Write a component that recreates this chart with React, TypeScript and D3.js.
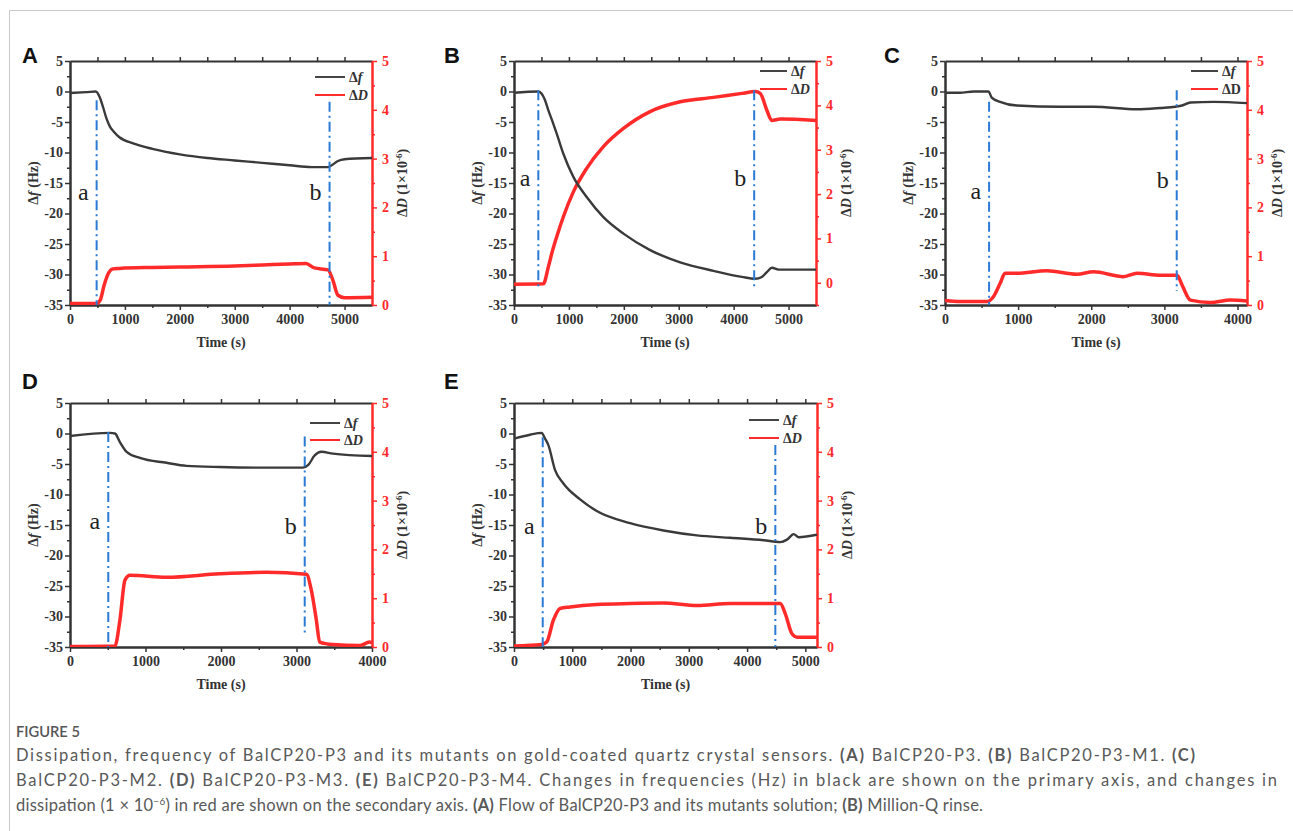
import React, { useRef, useEffect } from 'react';
import * as d3 from 'd3';

// ---- data (time in s, frequency in Hz, dissipation in 1e-6) ----

// A: BalCP20-P3
const aFreqT = [0, 300, 470, 540, 600, 667, 730, 790, 900, 1150, 1500, 2000, 2500, 3000, 3500, 4000, 4400, 4700, 4780, 4880, 5000, 5500];
const aFreqHz = [-0.25, -0.1, 0, -0.9, -2.5, -4.5, -5.8, -6.5, -7.5, -8.5, -9.4, -10.3, -10.9, -11.3, -11.7, -12.1, -12.4, -12.4, -12.0, -11.4, -11.1, -10.9];
const aDissT = [0, 480, 550, 620, 700, 780, 900, 1500, 2000, 3000, 3500, 4000, 4300, 4450, 4700, 4790, 4880, 5000, 5500];
const aDiss = [0.03, 0.03, 0.1, 0.4, 0.65, 0.74, 0.75, 0.77, 0.78, 0.8, 0.82, 0.84, 0.85, 0.76, 0.72, 0.5, 0.2, 0.15, 0.16];
const aMarkT = [485, 4727];
const aMarkTop = [-1.45, -1.7];
const aMarkBottom = [-35, -35];
const aLabelHz = [-17.8, -17.8];

// B: BalCP20-P3-M1
const bFreqT = [0, 443, 504, 560, 626, 700, 778, 899, 1081, 1324, 1628, 1993, 2479, 3026, 3634, 4150, 4393, 4514, 4605, 4696, 4818, 5500];
const bFreqHz = [-0.2, 0, -0.35, -1.3, -3.1, -4.9, -6.9, -10.2, -14.0, -17.3, -20.6, -23.3, -26.0, -28.0, -29.4, -30.4, -30.7, -30.4, -29.6, -28.9, -29.2, -29.2];
const bDissT = [0, 535, 626, 700, 778, 899, 1081, 1324, 1628, 1993, 2479, 3026, 3634, 4150, 4393, 4484, 4605, 4696, 4848, 5500];
const bDiss = [-0.03, -0.02, 0.36, 0.72, 1.04, 1.49, 2.05, 2.58, 3.07, 3.48, 3.86, 4.08, 4.18, 4.27, 4.31, 4.27, 3.89, 3.66, 3.69, 3.66];
const bMarkT = [443, 4374];
const bMarkTop = [0.2, 0.2];
const bMarkBottom = [-32.0, -32.0];
const bLabelHz = [-15.5, -15.5];

// C: BalCP20-P3-M2
const cFreqT = [0, 205, 388, 594, 639, 753, 982, 1575, 2032, 2626, 2945, 3151, 3242, 3356, 3676, 4130];
const cFreqHz = [-0.2, -0.2, 0, 0, -1.0, -1.7, -2.3, -2.5, -2.5, -2.9, -2.7, -2.5, -2.3, -1.8, -1.7, -1.9];
const cDissT = [0, 205, 571, 662, 753, 822, 982, 1393, 1804, 2032, 2443, 2626, 2945, 3174, 3242, 3356, 3630, 3904, 4130];
const cDiss = [0.09, 0.07, 0.07, 0.17, 0.44, 0.65, 0.65, 0.7, 0.63, 0.68, 0.58, 0.65, 0.61, 0.61, 0.41, 0.1, 0.05, 0.1, 0.08];
const cMarkT = [603, 3169];
const cMarkTop = [-1.7, 0.2];
const cMarkBottom = [-35, -32.7];
const cLabelHz = [-17.7, -15.9];

// D: BalCP20-P3-M3
const dFreqT = [0, 529, 595, 661, 750, 926, 1279, 1543, 1984, 2601, 3086, 3153, 3241, 3329, 3483, 4000];
const dFreqHz = [-0.4, 0.1, 0, -1.4, -3.0, -4.0, -4.8, -5.3, -5.5, -5.6, -5.6, -5.2, -3.6, -3.0, -3.3, -3.7];
const dDissT = [0, 595, 661, 728, 794, 1279, 1984, 2601, 3131, 3197, 3263, 3307, 3483, 3836, 3968, 4000];
const dDiss = [0.01, 0.02, 0.55, 1.37, 1.47, 1.43, 1.5, 1.53, 1.49, 1.16, 0.55, 0.1, 0.05, 0.03, 0.1, 0.08];
const dMarkT = [507, 3109];
const dMarkTop = [0.25, -0.5];
const dMarkBottom = [-35, -33.1];
const dLabelHz = [-15.6, -16.5];

// E: BalCP20-P3-M4
const eFreqT = [0, 275, 475, 533, 590, 705, 848, 1134, 1420, 1993, 2566, 3139, 3711, 4284, 4570, 4685, 4800, 4886, 5200];
const eFreqHz = [-0.85, -0.2, 0.1, -0.85, -1.9, -6.0, -8.2, -10.8, -12.7, -14.7, -15.9, -16.7, -17.1, -17.5, -17.8, -17.4, -16.5, -17.0, -16.6];
const eDissT = [0, 475, 561, 676, 790, 962, 1420, 1993, 2566, 3139, 3711, 4570, 4656, 4771, 4857, 5200];
const eDiss = [0.02, 0.05, 0.1, 0.55, 0.79, 0.82, 0.87, 0.89, 0.9, 0.85, 0.89, 0.89, 0.68, 0.27, 0.2, 0.2];
const eMarkT = [493, 4485];
const eMarkTop = [-0.6, -1.9];
const eMarkBottom = [-35, -35];
const eLabelHz = [-16.5, -16.5];

const markNames = ['a', 'b'];
const freqTicks = [5, 0, -5, -10, -15, -20, -25, -30, -35];
const dissTicks = [0, 1, 2, 3, 4, 5];

// ---- layout ----
const panels = [
  { id: 'A', x: 70, y: 61, w: 302, h: 244, xMax: 5500, dMin: 0, letterX: 22, letterY: 63, leg: [57, 27, 16, 34], italicD: true,
    freq: [aFreqT, aFreqHz], diss: [aDissT, aDiss], marks: [aMarkT, aMarkTop, aMarkBottom, aLabelHz] },
  { id: 'B', x: 514, y: 61, w: 302, h: 244, xMax: 5500, dMin: -0.5, letterX: 444, letterY: 63, leg: [56, 29, 10, 28], italicD: true,
    freq: [bFreqT, bFreqHz], diss: [bDissT, bDiss], marks: [bMarkT, bMarkTop, bMarkBottom, bLabelHz] },
  { id: 'C', x: 945, y: 61, w: 302, h: 244, xMax: 4130, dMin: 0, letterX: 884, letterY: 63, leg: [56, 29, 10, 28], italicD: false,
    freq: [cFreqT, cFreqHz], diss: [cDissT, cDiss], marks: [cMarkT, cMarkTop, cMarkBottom, cLabelHz] },
  { id: 'D', x: 70, y: 403, w: 302, h: 244, xMax: 4000, dMin: 0, letterX: 22, letterY: 389, leg: [62, 32, 20, 37], italicD: true,
    freq: [dFreqT, dFreqHz], diss: [dDissT, dDiss], marks: [dMarkT, dMarkTop, dMarkBottom, dLabelHz] },
  { id: 'E', x: 514, y: 403, w: 303, h: 244, xMax: 5200, dMin: 0, letterX: 444, letterY: 389, leg: [68, 38, 17, 35], italicD: true,
    freq: [eFreqT, eFreqHz], diss: [eDissT, eDiss], marks: [eMarkT, eMarkTop, eMarkBottom, eLabelHz] },
];

const SERIF = "'Liberation Serif', 'Times New Roman', serif";
const DARK = '#333';
const RED = '#ff2b2b';
const BLUE = '#2a7ad6';

function Panel({ cfg }) {
  const ref = useRef(null);

  useEffect(() => {
    const g = d3.select(ref.current);
    g.selectAll('*').remove();
    const { w, h } = cfg;

    const x = d3.scaleLinear().domain([0, cfg.xMax]).range([0, w]);
    const yF = d3.scaleLinear().domain([-35, 5]).range([h, 0]);
    const yD = d3.scaleLinear().domain([cfg.dMin, 5]).range([h, 0]);
    const fmt = (d) => String(d);

    const styleAxis = (sel, color, width) => {
      sel.select('.domain').attr('stroke', color).attr('stroke-width', width);
      sel.selectAll('.tick line').attr('stroke', color).attr('stroke-width', 1.5);
      sel.selectAll('.tick text')
        .attr('fill', color)
        .style('font-family', SERIF)
        .style('font-weight', 'bold')
        .style('font-size', '14px');
    };

    // minor ticks first (no labels)
    const minorX = d3.range(500, cfg.xMax, 1000);
    g.append('g').attr('transform', `translate(0,${h})`)
      .call(d3.axisBottom(x).tickValues(minorX).tickSize(3).tickSizeOuter(0).tickFormat(() => ''))
      .call((s) => styleAxis(s, DARK, 2));
    g.append('g')
      .call(d3.axisBottom(x).tickValues(d3.range(500, cfg.xMax, 500)).tickSize(-4).tickSizeOuter(0).tickFormat(() => ''))
      .call((s) => styleAxis(s, DARK, 2));
    g.append('g')
      .call(d3.axisLeft(yF).tickValues(d3.range(2.5, -35, -5)).tickSize(3).tickSizeOuter(0).tickFormat(() => ''))
      .call((s) => styleAxis(s, DARK, 2));
    g.append('g').attr('transform', `translate(${w},0)`)
      .call(d3.axisRight(yD).tickValues(d3.range(cfg.dMin < 0 ? -0.5 : 0.5, 5, 1)).tickSize(3).tickSizeOuter(0).tickFormat(() => ''))
      .call((s) => styleAxis(s, RED, 2));

    // major axes
    g.append('g').attr('transform', `translate(0,${h})`)
      .call(d3.axisBottom(x).tickValues(d3.range(0, cfg.xMax + 1, 1000)).tickSize(5).tickPadding(4).tickSizeOuter(0).tickFormat(fmt))
      .call((s) => styleAxis(s, DARK, 2));
    g.append('g')
      .call(d3.axisLeft(yF).tickValues(freqTicks).tickSize(5).tickPadding(2).tickSizeOuter(0).tickFormat(fmt))
      .call((s) => styleAxis(s, DARK, 2));
    g.append('g').attr('transform', `translate(${w},0)`)
      .call(d3.axisRight(yD).tickValues(dissTicks).tickSize(5).tickPadding(5).tickSizeOuter(0).tickFormat(fmt))
      .call((s) => styleAxis(s, RED, 2));

    // axis titles
    g.append('text')
      .attr('transform', `translate(${w / 2},${h + 42})`)
      .attr('text-anchor', 'middle')
      .style('font-family', SERIF).style('font-weight', 'bold').style('font-size', '14px')
      .attr('fill', DARK)
      .text('Time (s)');

    const lt = g.append('text')
      .attr('transform', `translate(${-37},${h / 2}) rotate(-90)`)
      .attr('text-anchor', 'middle')
      .attr('dy', '0.35em')
      .style('font-family', SERIF).style('font-weight', 'bold').style('font-size', '14px')
      .attr('fill', DARK);
    lt.append('tspan').text('Δ');
    lt.append('tspan').style('font-style', 'italic').text('f');
    lt.append('tspan').text(' (Hz)');

    const rt = g.append('text')
      .attr('transform', `translate(${w + 30},${h / 2}) rotate(-90)`)
      .attr('text-anchor', 'middle')
      .attr('dy', '0.35em')
      .style('font-family', SERIF).style('font-weight', 'bold').style('font-size', '14px')
      .attr('fill', DARK);
    rt.append('tspan').text('Δ');
    rt.append('tspan').style('font-style', 'italic').text('D');
    rt.append('tspan').text(' (1×10');
    rt.append('tspan').attr('dy', -5).style('font-size', '9px').text('-6');
    rt.append('tspan').attr('dy', 5).text(')');

    // data
    const clipId = `clip-${cfg.id}`;
    g.append('clipPath').attr('id', clipId)
      .append('rect').attr('x', 0).attr('y', -2).attr('width', w).attr('height', h + 2);
    const plot = g.append('g').attr('clip-path', `url(#${clipId})`);

    const [dT, dV] = cfg.diss;
    const dissLine = d3.line()
      .x((d) => x(d[0]))
      .y((d) => yD(d[1]))
      .curve(d3.curveMonotoneX);
    plot.append('path')
      .datum(dT.map((t, i) => [t, dV[i]]))
      .attr('fill', 'none')
      .attr('stroke', RED)
      .attr('stroke-width', 3.5)
      .attr('stroke-linejoin', 'round')
      .attr('d', dissLine);

    const [fT, fV] = cfg.freq;
    const freqLine = d3.line()
      .x((d) => x(d[0]))
      .y((d) => yF(d[1]))
      .curve(d3.curveMonotoneX);
    plot.append('path')
      .datum(fT.map((t, i) => [t, fV[i]]))
      .attr('fill', 'none')
      .attr('stroke', '#3a3a3a')
      .attr('stroke-width', 2.4)
      .attr('stroke-linejoin', 'round')
      .attr('d', freqLine);

    // injection / rinse markers
    const [mT, mTop, mBot, mLab] = cfg.marks;
    mT.forEach((t, i) => {
      g.append('line')
        .attr('x1', x(t)).attr('x2', x(t))
        .attr('y1', yF(mTop[i])).attr('y2', yF(mBot[i]))
        .attr('stroke', BLUE)
        .attr('stroke-width', 2)
        .attr('stroke-dasharray', '10 4 2 4');
      g.append('text')
        .attr('x', x(t) - 8)
        .attr('y', yF(mLab[i]))
        .attr('text-anchor', 'end')
        .style('font-family', SERIF).style('font-size', '24px')
        .attr('fill', '#222')
        .text(markNames[i]);
    });

    // legend
    const [ls, le, r1, r2] = cfg.leg;
    const rows = [
      { color: '#444', y: r1, label: 'f', italic: true },
      { color: RED, y: r2, label: 'D', italic: cfg.italicD },
    ];
    rows.forEach((r) => {
      g.append('line')
        .attr('x1', w - ls).attr('x2', w - le)
        .attr('y1', r.y).attr('y2', r.y)
        .attr('stroke', r.color).attr('stroke-width', 2);
      const t = g.append('text')
        .attr('x', w - le + 4)
        .attr('y', r.y + 5)
        .style('font-family', SERIF).style('font-weight', 'bold').style('font-size', '14px')
        .attr('fill', DARK);
      t.append('tspan').text('Δ');
      t.append('tspan').style('font-style', r.italic ? 'italic' : 'normal').text(r.label);
    });
  }, [cfg]);

  return (
    <g>
      <text
        x={cfg.letterX}
        y={cfg.letterY}
        style={{ fontFamily: "'Liberation Sans', Arial, sans-serif", fontWeight: 'bold', fontSize: '22px' }}
        fill="#111"
      >
        {cfg.id}
      </text>
      <g ref={ref} transform={`translate(${cfg.x},${cfg.y})`} />
    </g>
  );
}

const captionFont = "Lato, 'Open Sans', sans-serif";

function Caption() {
  const base = { fontFamily: captionFont, fontSize: '16.5px', fill: '#595959' };
  const b = { fontWeight: 700 };
  return (
    <g>
      <text x={16} y={737} textLength={64} lengthAdjust="spacingAndGlyphs"
        style={{ fontFamily: captionFont, fontSize: '15px', fill: '#555', fontWeight: 600 }}>
        FIGURE 5
      </text>
      <text x={16} y={761} textLength={1179} lengthAdjust="spacing" style={base}>
        Dissipation, frequency of BalCP20-P3 and its mutants on gold-coated quartz crystal sensors.{' '}
        <tspan style={b}>(A)</tspan> BalCP20-P3. <tspan style={b}>(B)</tspan> BalCP20-P3-M1.{' '}
        <tspan style={b}>(C)</tspan>
      </text>
      <text x={16} y={786} textLength={1261} lengthAdjust="spacing" style={base}>
        BalCP20-P3-M2. <tspan style={b}>(D)</tspan> BalCP20-P3-M3. <tspan style={b}>(E)</tspan> BalCP20-P3-M4.
        Changes in frequencies (Hz) in black are shown on the primary axis, and changes in
      </text>
      <text x={16} y={811} textLength={967} lengthAdjust="spacing" style={base}>
        dissipation (1 × 10<tspan dy={-6} style={{ fontSize: '10px' }}>−6</tspan>
        <tspan dy={6}>) in red are shown on the secondary axis. </tspan>
        <tspan style={b}>(A)</tspan> Flow of BalCP20-P3 and its mutants solution; <tspan style={b}>(B)</tspan> Million-Q rinse.
      </text>
    </g>
  );
}

export default function App() {
  return (
    <svg
      width={1293}
      height={831}
      style={{ position: 'fixed', left: 0, top: 0, background: '#fff', display: 'block' }}
    >
      <rect x={0} y={0} width={1293} height={831} fill="#fff" />
      <line x1={9.5} y1={10.5} x2={1293} y2={10.5} stroke="#c8c8c8" strokeWidth={1} />
      <line x1={9.5} y1={10.5} x2={9.5} y2={831} stroke="#c8c8c8" strokeWidth={1} />
      {panels.map((p) => (
        <Panel key={p.id} cfg={p} />
      ))}
      <Caption />
    </svg>
  );
}
